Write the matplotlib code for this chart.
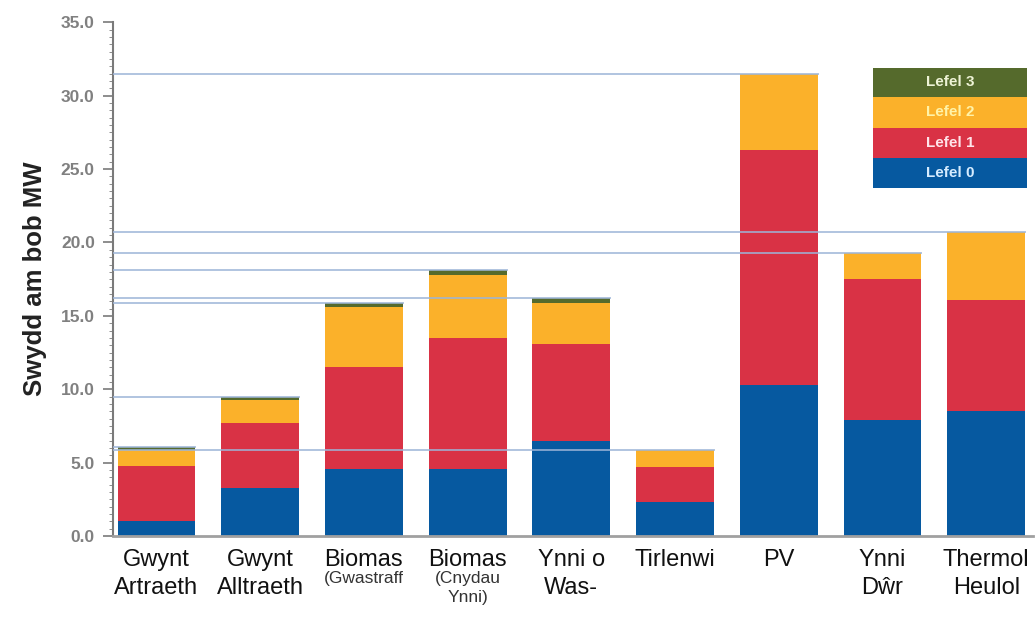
import numpy as np
import matplotlib.pyplot as plt
from matplotlib.patches import Rectangle
from matplotlib.ticker import MultipleLocator

plt.rcParams['font.family'] = ['Liberation Sans', 'DejaVu Sans']

# categori (llinell gyntaf, ail linell, ail linell yn fach?)
categories = [
    ("Gwynt", "Artraeth", False),
    ("Gwynt", "Alltraeth", False),
    ("Biomas", "(Gwastraff", True),
    ("Biomas", "(Cnydau\nYnni)", True),
    ("Ynni o", "Was-", False),
    ("Tirlenwi", "", False),
    ("PV", "", False),
    ("Ynni", "Dŵr", False),
    ("Thermol", "Heulol", False),
]

lefel0 = [1.0, 3.3, 4.6, 4.6, 6.5, 2.3, 10.3, 7.9, 8.5]
lefel1 = [3.8, 4.4, 6.9, 8.9, 6.6, 2.4, 16.0, 9.6, 7.6]
lefel2 = [1.1, 1.6, 4.1, 4.3, 2.8, 1.2, 5.2, 1.8, 4.6]
lefel3 = [0.15, 0.2, 0.3, 0.3, 0.3, 0.0, 0.0, 0.0, 0.0]

series = [lefel0, lefel1, lefel2, lefel3]
labels = ["Lefel 0", "Lefel 1", "Lefel 2", "Lefel 3"]
colors = ["#0659a0", "#d93245", "#fbb12a", "#556a2c"]
text_colors = ["#d6ecff", "#ffe4ea", "#fff3a8", "#eef3d6"]

yticks = np.arange(0, 35.1, 5)


def main():
    fig = plt.figure(figsize=(10.36, 6.17), dpi=100)
    ax = fig.add_axes([0.109, 0.131, 0.888, 0.833])

    x = np.arange(len(categories))
    width = 0.75
    bottom = np.zeros(len(x))
    for vals, col in zip(series, colors):
        ax.bar(x, vals, width, bottom=bottom, color=col, linewidth=0, zorder=2)
        bottom += np.array(vals)

    # llinellau o'r echelin i frig pob bar
    for xi, tot in zip(x, bottom):
        ax.plot([-0.5, xi + width / 2], [tot, tot], color="#9db5d8",
                linewidth=1.4, alpha=0.8, zorder=3)

    ax.set_xlim(-0.42, 8.45)
    ax.set_ylim(0, 35)
    ax.set_yticks(yticks)
    ax.set_yticklabels([f"{v:.1f}" for v in yticks], color="#808080",
                       fontsize=12.5, fontweight="bold")
    ax.yaxis.set_minor_locator(MultipleLocator(0.5))
    ax.tick_params(axis="y", which="major", length=7, color="#7a7a7a",
                   width=1.2, pad=6)
    ax.tick_params(axis="y", which="minor", length=3, color="#7a7a7a")
    ax.set_xticks([])
    for s in ["top", "right"]:
        ax.spines[s].set_visible(False)
    ax.spines["left"].set_color("#7a7a7a")
    ax.spines["left"].set_linewidth(1.5)
    ax.spines["bottom"].set_color("#a0a0a0")
    ax.spines["bottom"].set_linewidth(2)
    ax.set_ylabel("Swydd am bob MW", fontsize=18.5, fontweight="bold",
                  color="#222222", labelpad=10)

    # labeli'r categorïau
    tr = ax.get_xaxis_transform()
    H = 617.0
    for xi, (l1, l2, small) in zip(x, categories):
        y1 = (536 - 560) / (536 - 22)
        ax.text(xi, y1, l1, transform=tr, ha="center", va="center",
                fontsize=17, color="#111111", clip_on=False)
        if l2:
            if small:
                ax.text(xi, (536 - 571) / 514, l2, transform=tr, ha="center",
                        va="top", fontsize=12.5, color="#333333",
                        linespacing=1.3, clip_on=False)
            else:
                ax.text(xi, (536 - 588) / 514, l2, transform=tr, ha="center",
                        va="center", fontsize=17, color="#111111", clip_on=False)

    # allwedd
    x0, x1 = 873, 1027
    rows = [(68, 97), (97, 128), (128, 158), (158, 188)]
    for (ya, yb), lab, col, tc in zip(rows, labels[::-1], colors[::-1], text_colors[::-1]):
        fig.patches.append(Rectangle((x0 / 1036, 1 - yb / H), (x1 - x0) / 1036,
                                     (yb - ya) / H, transform=fig.transFigure,
                                     facecolor=col, edgecolor="none"))
        fig.text((x0 + x1) / 2 / 1036, 1 - (ya + yb) / 2 / H, lab, ha="center",
                 va="center", fontsize=11, fontweight="bold", color=tc)

    plt.savefig("out.png", dpi=100)


if __name__ == "__main__":
    main()
